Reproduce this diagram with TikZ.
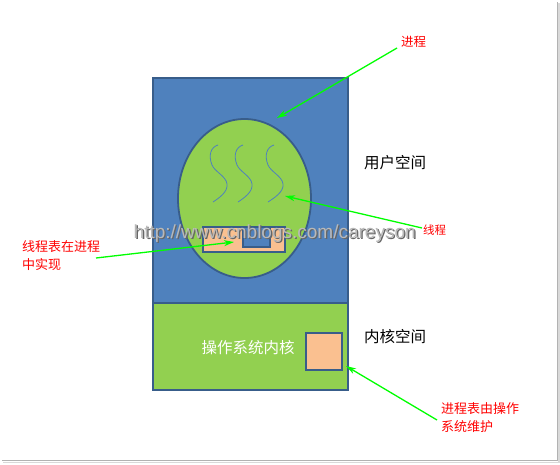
\documentclass[tikz,border=0pt]{standalone}
\usepackage{fontspec}
\newfontfamily\cjk{Noto Sans CJK SC}
\newfontfamily\wmfont{Liberation Sans}
\usetikzlibrary{arrows.meta}
\definecolor{ublue}{HTML}{4F81BD}
\definecolor{bline}{HTML}{385D8A}
\definecolor{kgreen}{HTML}{92D050}
\definecolor{peach}{HTML}{FAC090}
\definecolor{agreen}{HTML}{00FF00}
\tikzset{
  boxline/.style={draw=bline,line width=1.8pt},
  garrow/.style={draw=agreen,line width=1.3pt,-{Stealth[length=10pt,width=6pt,inset=3pt]}},
  redlbl/.style={text=red,font=\cjk\fontsize{13}{18}\selectfont,inner sep=0pt,align=left},
  blklbl/.style={text=black,font=\cjk\fontsize{15.5}{18}\selectfont,inner sep=0pt},
  wave/.style={draw=ublue,line width=0.8pt},
}
\begin{document}
\begin{tikzpicture}[x=1pt,y=-1pt]
\useasboundingbox (0,0) rectangle (560,464);
\fill[white] (0,0) rectangle (560,464);
% frame shadow
\draw[gray!60,line width=1pt] (557.5,2) -- (557.5,460.5) -- (2,460.5);
\draw[gray!30,line width=1.5pt] (559,3) -- (559,462.5) -- (3,462.5);
% user space
\node[boxline,fill=ublue,minimum width=195pt,minimum height=225pt,anchor=north west,inner sep=0pt] (user) at (152,77) {};
% kernel space
\node[boxline,fill=kgreen,minimum width=195pt,minimum height=87pt,anchor=north west,inner sep=0pt] (kern) at (152,302) {};
% process ellipse
\draw[boxline,fill=kgreen] (244.5,198.5) ellipse [x radius=66.5pt,y radius=79.5pt];
\coordinate (ell) at (244.5,198.5);
% threads
\draw[wave] (218,145) .. controls (211,147) and (208,155) .. (212,165) .. controls (215,172) and (226,176) .. (227,184) .. controls (228,192) and (219,198) .. (213,202);
\draw[wave] (243,145) .. controls (236,147) and (233,155) .. (237,165) .. controls (240,172) and (251,176) .. (252,184) .. controls (253,192) and (244,198) .. (238,202);
\draw[wave] (274,145) .. controls (267,147) and (264,155) .. (268,165) .. controls (271,172) and (282,176) .. (283,184) .. controls (284,192) and (274,198) .. (268,202);
% thread table
\node[boxline,fill=peach,minimum width=82pt,minimum height=25pt,inner sep=0pt] (ttab) at (244,239.5) {};
\node[boxline,fill=ublue,minimum width=27pt,minimum height=20pt,inner sep=0pt] (tsmall) at (256.5,237) {};
% kernel content
\node[text=white,font=\cjk\fontsize{15.5}{18}\selectfont,inner sep=0pt] (ostxt) at (248,348) {操作系统内核};
\node[boxline,fill=peach,minimum width=36pt,minimum height=37pt,inner sep=0pt] (ptab) at (324,351.5) {};
% side labels
\node[blklbl,anchor=west] (ulbl) at (364,163) {用户空间};
\node[blklbl,anchor=west] (klbl) at (364,337) {内核空间};
% watermark
\node[text=gray!80!black,font=\wmfont\fontsize{19}{20}\selectfont,inner sep=0pt,anchor=base west] (wm0) at (134.8,239.8) {http://www.cnblogs.com/careyson};
\node[text=gray!55,font=\wmfont\fontsize{19}{20}\selectfont,inner sep=0pt,anchor=base west] (wm) at (133.5,238.5) {http://www.cnblogs.com/careyson};
% red labels
\node[redlbl,font=\cjk\fontsize{12.5}{18}\selectfont,anchor=west] (lproc) at (401,42) {进程};
\node[redlbl,font=\cjk\fontsize{11.5}{18}\selectfont,anchor=west] (lthr) at (423,230) {线程};
\node[redlbl,anchor=north west,text width=80pt] (ltt) at (22,240) {线程表在进程\\中实现};
\node[redlbl,anchor=north west,text width=80pt] (lpt) at (441,402) {进程表由操作\\系统维护};
% arrows
\coordinate (a1s) at (397,48);
\coordinate (a1e) at (277,118);
\coordinate (a2s) at (422,228);
\coordinate (a2e) at (285,196);
\coordinate (a3s) at (96,258);
\coordinate (a3e) at (234,242);
\coordinate (a4s) at (437,420);
\coordinate (a4e) at (346,366);
\draw[garrow] (a1s) -- (a1e);
\draw[garrow] (a2s) -- (a2e);
\draw[garrow] (a3s) -- (a3e);
\draw[garrow] (a4s) -- (a4e);
\end{tikzpicture}
\end{document}
